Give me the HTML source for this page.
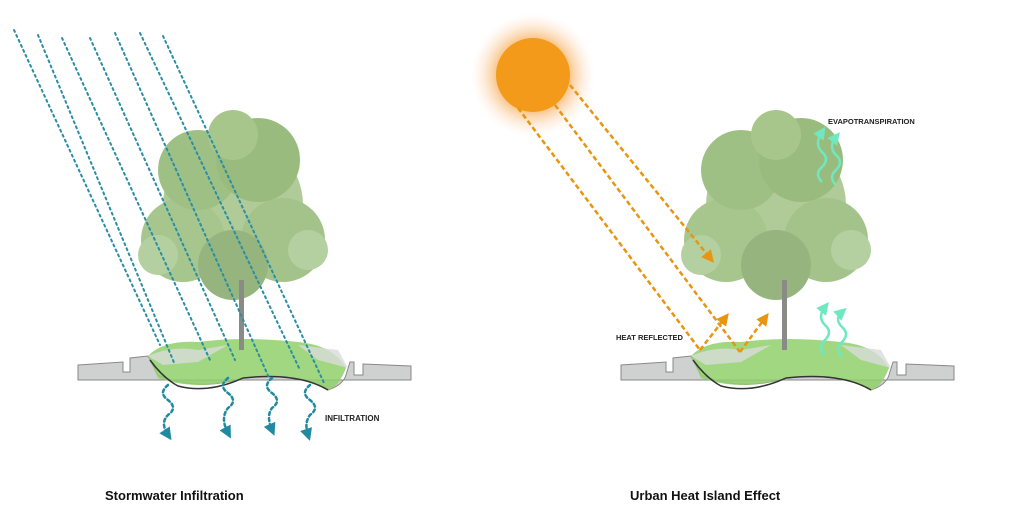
<!DOCTYPE html>
<html><head><meta charset="utf-8"><style>
body{margin:0;background:#fff;width:1024px;height:522px;overflow:hidden}
svg{display:block}
text{font-family:"Liberation Sans",sans-serif;font-weight:bold}
</style></head><body>
<svg width="1024" height="522" viewBox="0 0 1024 522">
<defs>
<radialGradient id="glow"><stop offset="0.5" stop-color="#f39a1a"/><stop offset="0.62" stop-color="#f6a54a" stop-opacity="0.7"/><stop offset="1" stop-color="#fde0cc" stop-opacity="0"/></radialGradient>
<marker id="ta" viewBox="0 0 10 10" refX="5" refY="5" markerWidth="5" markerHeight="5" orient="auto"><path d="M0,0L10,5L0,10z" fill="#1f8aa0"/></marker>
<marker id="oa" viewBox="0 0 10 10" refX="5" refY="5" markerWidth="5" markerHeight="5" orient="auto"><path d="M0,0L10,5L0,10z" fill="#e8950f"/></marker>
<marker id="ga" viewBox="0 0 10 10" refX="5" refY="5" markerWidth="5" markerHeight="5" orient="auto"><path d="M0,0L10,5L0,10z" fill="#6fe8c0"/></marker>
<g id="scene">
<path d="M80,365 L125,362 L125,372 L132,372 L132,358 L150,356 L160,375 Q200,392 245,378 Q300,372 330,390 Q345,385 348,375 L352,362 L356,362 L356,375 L365,375 L365,364 L413,366 L413,380 L80,380z" fill="#cfd1d1" stroke="#888" stroke-width="1"/>
<path d="M150,356 Q165,340 200,342 Q245,336 300,342 Q335,345 348,368 Q340,388 330,390 Q300,372 245,378 Q200,392 160,378z" fill="#8fd06a" opacity="0.85"/>
<path d="M150,356 Q175,345 200,350 L230,345 L200,362 L165,365z" fill="#d8dcda" opacity="0.8"/>
<path d="M300,345 L340,350 L350,368 L320,360z" fill="#d8dcda" opacity="0.8"/>
<path d="M152,360 Q165,378 180,386 Q210,394 245,378 Q300,372 330,390" fill="none" stroke="#333" stroke-width="1.5"/>
<g opacity="0.85">
<circle cx="235" cy="205" r="70" fill="#a3c386"/>
<circle cx="185" cy="240" r="42" fill="#98bd7a"/>
<circle cx="285" cy="240" r="42" fill="#93b977"/>
<circle cx="200" cy="170" r="40" fill="#8fb670"/>
<circle cx="260" cy="160" r="42" fill="#88b068"/>
<circle cx="235" cy="135" r="25" fill="#98bd78"/>
<circle cx="160" cy="255" r="20" fill="#a8c890"/>
<circle cx="310" cy="250" r="20" fill="#a8c890"/>
<circle cx="235" cy="265" r="35" fill="#84a968"/>
</g>
<rect x="241" y="280" width="5" height="70" fill="#8a8a86"/>
</g>
</defs>

<!-- LEFT -->
<use href="#scene" x="-2" y="0"/>
<g stroke="#2a8ea4" stroke-width="2" stroke-dasharray="2 3.5" fill="none" stroke-linecap="round">
<path d="M14,30 L160,345"/>
<path d="M38,35 L175,365"/>
<path d="M62,38 L210,360"/>
<path d="M90,38 L235,360"/>
<path d="M115,33 L270,380"/>
<path d="M140,33 L300,370"/>
<path d="M163,36 L325,385"/>
</g>
<g stroke="#1f8aa0" stroke-width="2.5" stroke-dasharray="3 3" fill="none" stroke-linecap="round" marker-end="url(#ta)">
<path d="M168,385 q-10,8 0,15 q10,8 0,15 q-8,8 0,20"/>
<path d="M228,378 q-10,8 0,15 q10,8 0,15 q-8,10 0,25"/>
<path d="M272,378 q-10,8 0,15 q10,8 0,15 q-6,8 0,22"/>
<path d="M310,385 q-10,8 0,15 q10,8 0,15 q-6,8 -2,20"/>
</g>
<text x="325" y="421" font-size="8" fill="#222">INFILTRATION</text>
<text x="105" y="500" font-size="13" fill="#111">Stormwater Infiltration</text>

<!-- RIGHT -->
<use href="#scene" x="541" y="0"/>
<circle cx="533" cy="75" r="62" fill="url(#glow)" opacity="0.8"/>
<circle cx="533" cy="75" r="37" fill="#f39a1a"/>
<g stroke="#e8950f" stroke-width="2.5" stroke-dasharray="5 3" fill="none">
<path d="M518,108 L700,350"/>
<path d="M555,105 L740,352"/>
<path d="M570,85 L710,258" marker-end="url(#oa)"/>
<path d="M700,350 L725,318" marker-end="url(#oa)"/>
<path d="M740,352 L765,318" marker-end="url(#oa)"/>
</g>
<g stroke="#6fe8c0" stroke-width="2.5" fill="none" marker-end="url(#ga)">
<path d="M822,182 q-8,-8 0,-15 q8,-8 0,-15 q-8,-8 0,-20"/>
<path d="M836,185 q-8,-8 0,-15 q8,-8 0,-15 q-8,-8 0,-18"/>
<path d="M825,355 q-8,-8 0,-15 q8,-8 0,-15 q-8,-8 0,-18"/>
<path d="M842,357 q-8,-8 0,-15 q8,-8 0,-15 q-8,-8 0,-15"/>
</g>
<text x="828" y="124" font-size="7.5" fill="#222">EVAPOTRANSPIRATION</text>
<text x="616" y="340" font-size="7.5" fill="#222">HEAT REFLECTED</text>
<text x="630" y="500" font-size="13" fill="#111">Urban Heat Island Effect</text>
</svg>
</body></html>
